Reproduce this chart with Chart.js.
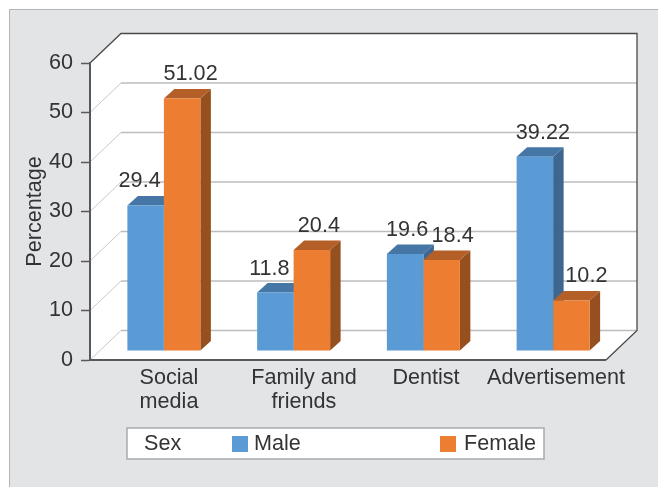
<!DOCTYPE html>
<html>
<head>
<meta charset="utf-8">
<script src="https://cdn.jsdelivr.net/npm/chart.js@4"></script>
<style>
html,body{margin:0;padding:0;background:#fff;overflow:hidden;}
#panel{position:absolute;left:9px;top:9px;width:660px;height:490px;background:#e3e4e6;border:1.5px solid #b3b4b7;}
#chart{position:absolute;left:0;top:0;}
</style>
</head>
<body>
<div id="panel"></div>
<canvas id="chart" width="658" height="487"></canvas>
<script>
const categories=[["Social","media"],["Family and","friends"],"Dentist","Advertisement"];
const maleValues=[29.4,11.8,19.6,39.22];
const femaleValues=[51.02,20.4,18.4,10.2];
const yTicks=[0,10,20,30,40,50,60];

const FONT="Liberation Sans";
const FONT_SIZE=21.6;
const TEXT="#333335";
const FRAME="#4a4a4c";

// wall depth, bars sit part way in
const depthX=31,depthY=29.5;
const barShift=9;
const barDX=10.5,barDY=9.5;
const frontRight=606;

// nudges to where the labels sit in the picture
const xLabelCenters=[169,304,426,556];
const labelNudge=[[-6,8.5],[-6,7],[2,11],[8,15]];

function poly(ctx,pts,fill){
ctx.beginPath();
pts.forEach((p,i)=>i?ctx.lineTo(p[0],p[1]):ctx.moveTo(p[0],p[1]));
ctx.closePath();
ctx.fillStyle=fill;
ctx.fill();
}

function line(ctx,pts,color,w){
ctx.beginPath();
pts.forEach((p,i)=>i?ctx.lineTo(p[0],p[1]):ctx.moveTo(p[0],p[1]));
ctx.strokeStyle=color;
ctx.lineWidth=w;
ctx.stroke();
}

const box3d={
id:"box3d",
beforeDraw(chart){
let ctx=chart.ctx,a=chart.chartArea,y=chart.scales.y;
ctx.save();
let top=a.top-depthY,right=frontRight+depthX,floor=a.bottom-depthY;
poly(ctx,[[a.left,a.top],[a.left+depthX,top],[right,top],[right,floor],[frontRight,a.bottom],[a.left,a.bottom]],"#fff");
yTicks.forEach(v=>{
let py=y.getPixelForValue(v);
if(v===60) return;
line(ctx,[[a.left,py],[a.left+depthX,py-depthY]],"#c9c9c9",1);
line(ctx,[[a.left+depthX,py-depthY],[right,py-depthY]],"#bdbdbd",1.5);
});
line(ctx,[[a.left,a.top],[a.left+depthX,top],[right,top],[right,floor],[frontRight,a.bottom]],FRAME,1.3);
line(ctx,[[a.left,a.bottom],[frontRight,a.bottom]],"#58585a",2);
ctx.restore();
},
beforeDatasetsDraw(chart){
let ctx=chart.ctx;
ctx.save();
ctx.translate(barShift,-barShift);
chart.data.datasets.forEach((ds,d)=>{
chart.getDatasetMeta(d).data.forEach(bar=>{
let l=bar.x-bar.width/2,r=bar.x+bar.width/2;
poly(ctx,[[r,bar.y],[r+barDX,bar.y-barDY],[r+barDX,bar.base-barDY],[r,bar.base]],ds.sideColor);
poly(ctx,[[l,bar.y],[l+barDX,bar.y-barDY],[r+barDX,bar.y-barDY],[r,bar.y]],ds.topColor);
});
});
},
afterDatasetsDraw(chart){
let ctx=chart.ctx,a=chart.chartArea;
ctx.restore();
ctx.save();
ctx.fillStyle=TEXT;
ctx.font=FONT_SIZE+"px '"+FONT+"'";
ctx.textAlign="center";
ctx.textBaseline="middle";

chart.data.datasets.forEach((ds,d)=>{
chart.getDatasetMeta(d).data.forEach((bar,i)=>{
ctx.fillText(String(ds.data[i]),bar.x+barShift+labelNudge[i][d],bar.y-barShift-24);
});
});

categories.forEach((c,i)=>{
let lines=Array.isArray(c)?c:[c];
lines.forEach((t,n)=>ctx.fillText(t,xLabelCenters[i],a.bottom+18+n*24));
});

// legend
ctx.fillStyle="#fff";
ctx.fillRect(127,428,417,31);
ctx.strokeStyle="#a8a9ab";
ctx.lineWidth=1.5;
ctx.strokeRect(127,428,417,31);
ctx.textAlign="left";
ctx.fillStyle=TEXT;
ctx.fillText("Sex",144,444);
[[232,254],[440,464]].forEach((pos,d)=>{
let ds=chart.data.datasets[d];
ctx.fillStyle=ds.backgroundColor;
ctx.fillRect(pos[0],436,16,16);
ctx.fillStyle=TEXT;
ctx.fillText(ds.label,pos[1],444);
});
ctx.restore();
}
};

new Chart(document.getElementById("chart"),{
type:"bar",
data:{
labels:categories,
datasets:[
{label:"Male",data:maleValues,backgroundColor:"#5b9bd5",topColor:"#4576a5",sideColor:"#3d6690",
categoryPercentage:0.5626,barPercentage:1},
{label:"Female",data:femaleValues,backgroundColor:"#ed7d31",topColor:"#b45f28",sideColor:"#96501f",
categoryPercentage:0.5626,barPercentage:1}
]
},
options:{
responsive:false,
animation:false,
layout:{padding:{left:0,top:63,right:49,bottom:127}},
plugins:{legend:{display:false},tooltip:{enabled:false}},
scales:{
x:{
afterFit(s){s.height=0;},
grid:{display:false},
border:{display:false},
ticks:{display:false}
},
y:{
min:0,
max:60,
afterFit(s){s.width=90;},
afterBuildTicks(s){s.ticks=yTicks.map(v=>({value:v}));},
title:{display:true,text:"Percentage",color:TEXT,font:{family:FONT,size:FONT_SIZE},padding:{top:22,bottom:0}},
grid:{drawOnChartArea:false,drawTicks:true,tickLength:9,tickColor:"#58585a",tickWidth:1.5},
border:{display:true,color:"#58585a",width:2},
ticks:{color:TEXT,padding:8,font:{family:FONT,size:FONT_SIZE}}
}
}
},
plugins:[box3d]
});
</script>
</body>
</html>
